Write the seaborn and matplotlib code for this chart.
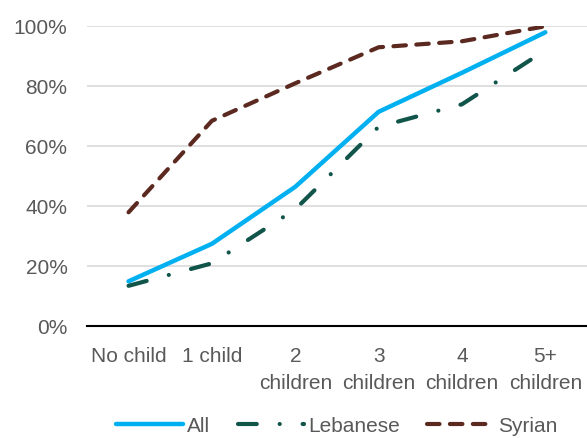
import pandas as pd
import matplotlib
matplotlib.use("Agg")
import matplotlib.pyplot as plt
import seaborn as sns
from matplotlib.ticker import PercentFormatter

# data
categories = ["No child", "1 child", "2\nchildren", "3\nchildren", "4\nchildren", "5+\nchildren"]
all_vals = [15, 27.5, 46.5, 71.5, 84.5, 98]
lebanese_vals = [13.5, 21, 39, 66.5, 74, 92]
syrian_vals = [38, 68.5, 81, 93, 95, 100]

series_names = ["All", "Lebanese", "Syrian"]
colors = {"All": "#00B0F0", "Lebanese": "#10544A", "Syrian": "#5B2920"}
dashes = {"All": "", "Lebanese": (4.5, 5.5, 0.01, 5.5), "Syrian": (3, 2.5)}

df = pd.DataFrame({
    "category": categories * 3,
    "share": all_vals + lebanese_vals + syrian_vals,
    "series": ["All"] * 6 + ["Lebanese"] * 6 + ["Syrian"] * 6,
})

sns.set_style("white")
plt.rcParams["font.family"] = ["Liberation Sans", "DejaVu Sans"]
text_color = "#595959"

fig, ax = plt.subplots(figsize=(5.87, 4.38), dpi=100)
fig.subplots_adjust(left=0.148, right=1.0, top=0.94, bottom=0.255)

sns.lineplot(data=df, x="category", y="share", hue="series", style="series",
             palette=colors, dashes=dashes, hue_order=series_names,
             linewidth=3, dash_capstyle="round", sort=False, ax=ax, legend=False)
ax.get_lines()[0].set_linewidth(3.2)

ax.set_ylim(0, 100)
ax.set_xlim(-0.5, 5.5)
ax.set_yticks(range(0, 101, 20))
ax.yaxis.set_major_formatter(PercentFormatter(decimals=0))
ax.grid(axis="y", color="#D9D9D9", linewidth=1.2)
ax.set_axisbelow(True)
for side in ["left", "right", "top"]:
    ax.spines[side].set_visible(False)
ax.spines["bottom"].set_color("black")
ax.spines["bottom"].set_linewidth(1.5)
ax.set_xlabel("")
ax.set_ylabel("")
ax.tick_params(axis="both", length=0, labelsize=15, labelcolor=text_color)
ax.tick_params(axis="y", pad=14)
ax.tick_params(axis="x", pad=15)
for lbl in ax.get_xticklabels():
    lbl.set_linespacing(1.55)

fig.legend(ax.get_lines()[:3], series_names, loc="center",
           bbox_to_anchor=(0.574, 0.027), ncol=3, frameon=False, fontsize=15,
           labelcolor=text_color, handlelength=3.2, handletextpad=0.2,
           columnspacing=1.3, borderpad=0)

fig.savefig("out.png", dpi=100)
